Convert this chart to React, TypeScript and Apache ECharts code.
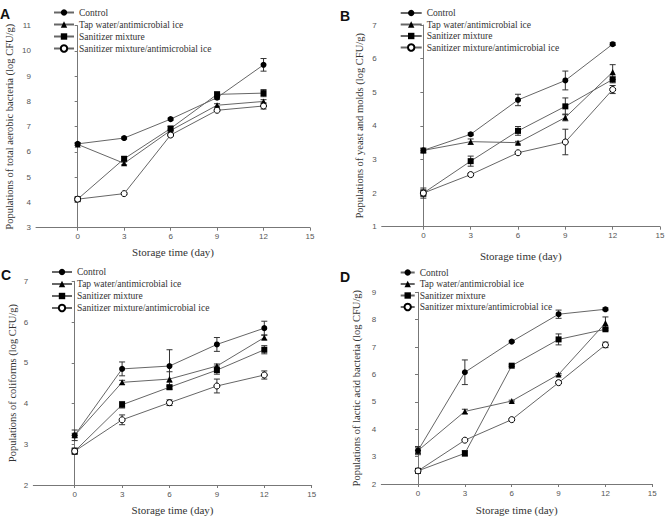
import React, { useEffect, useRef } from "react";
import * as echarts from "echarts";

// Storage days on the x axis
const days = [0, 3, 6, 9, 12];
const xTickValues = [0, 3, 6, 9, 12, 15];

const seriesNames = [
  "Control",
  "Tap water/antimicrobial ice",
  "Sanitizer mixture",
  "Sanitizer mixture/antimicrobial ice",
];

// A: total aerobic bacteria (log CFU/g), means and error half-widths
const aerobicControl = [6.32, 6.55, 7.3, 8.15, 9.45];
const aerobicControlErr = [0.05, 0.04, 0.04, 0.06, 0.25];
const aerobicTap = [6.3, 5.55, 6.85, 7.85, 8.0];
const aerobicTapErr = [0.04, 0.06, 0.05, 0.06, 0.07];
const aerobicSanitizer = [4.13, 5.73, 6.93, 8.28, 8.33];
const aerobicSanitizerErr = [0.04, 0.08, 0.08, 0.1, 0.14];
const aerobicSanIce = [4.13, 4.35, 6.67, 7.65, 7.82];
const aerobicSanIceErr = [0.05, 0.04, 0.05, 0.05, 0.12];

// B: yeast and molds
const yeastControl = [3.27, 3.75, 4.77, 5.35, 6.43];
const yeastControlErr = [0.07, 0.04, 0.17, 0.28, 0.04];
const yeastTap = [3.27, 3.53, 3.5, 4.25, 5.6];
const yeastTapErr = [0.05, 0.08, 0.04, 0.1, 0.22];
const yeastSanitizer = [2.0, 2.95, 3.85, 4.58, 5.38];
const yeastSanitizerErr = [0.1, 0.15, 0.13, 0.25, 0.1];
const yeastSanIce = [2.0, 2.55, 3.2, 3.52, 5.08];
const yeastSanIceErr = [0.15, 0.04, 0.03, 0.38, 0.12];

// C: coliforms
const coliControl = [3.22, 4.85, 4.92, 5.45, 5.85];
const coliControlErr = [0.13, 0.17, 0.4, 0.17, 0.17];
const coliTap = [3.22, 4.52, 4.6, 4.92, 5.62];
const coliTapErr = [0.05, 0.05, 0.18, 0.05, 0.06];
const coliSanitizer = [2.83, 3.97, 4.4, 4.82, 5.32];
const coliSanitizerErr = [0.05, 0.08, 0.05, 0.1, 0.1];
const coliSanIce = [2.83, 3.6, 4.02, 4.43, 4.7];
const coliSanIceErr = [0.08, 0.12, 0.07, 0.17, 0.1];

// D: lactic acid bacteria
const labControl = [3.22, 6.08, 7.2, 8.2, 8.38];
const labControlErr = [0.15, 0.45, 0.03, 0.15, 0.05];
const labTap = [3.22, 4.65, 5.03, 6.0, 7.88];
const labTapErr = [0.1, 0.08, 0.03, 0.03, 0.22];
const labSanitizer = [2.48, 3.12, 6.32, 7.28, 7.65];
const labSanitizerErr = [0.05, 0.1, 0.03, 0.2, 0.05];
const labSanIce = [2.48, 3.6, 4.35, 5.7, 7.08];
const labSanIceErr = [0.05, 0.03, 0.03, 0.03, 0.1];

const SERIF = "Liberation Serif";
const SANS = "Liberation Sans";

type Panel = {
  letter: string;
  yTitle: string;
  yMin: number;
  yMax: number;
  xMin: number;
  grid: { left: number; top: number; width: number; height: number };
  yNameGap: number;
  xNameGap: number;
  legend: { left: number; top: number; itemWidth: number; itemGap: number };
  letterPos: [number, number];
  values: number[][];
  errors: number[][];
};

const panels: Panel[] = [
  {
    letter: "A",
    yTitle: "Populations of total aerobic bacteria (log CFU/g)",
    yMin: 3,
    yMax: 11,
    xMin: -2.69,
    grid: { left: 36, top: 25.7, width: 274, height: 202 },
    yNameGap: 21,
    xNameGap: 19,
    legend: { left: 48, top: 2.5, itemWidth: 20, itemGap: 2 },
    letterPos: [0, 7],
    values: [aerobicControl, aerobicTap, aerobicSanitizer, aerobicSanIce],
    errors: [aerobicControlErr, aerobicTapErr, aerobicSanitizerErr, aerobicSanIceErr],
  },
  {
    letter: "B",
    yTitle: "Populations of yeast and molds (log CFU/g)",
    yMin: 1,
    yMax: 7,
    xMin: -2.64,
    grid: { left: 381.7, top: 25, width: 278.3, height: 201.7 },
    yNameGap: 17,
    xNameGap: 24,
    legend: { left: 394.7, top: 3, itemWidth: 21, itemGap: 1.5 },
    letterPos: [340, 9],
    values: [yeastControl, yeastTap, yeastSanitizer, yeastSanIce],
    errors: [yeastControlErr, yeastTapErr, yeastSanitizerErr, yeastSanIceErr],
  },
  {
    letter: "C",
    yTitle: "Populations of coliforms (log CFU/g)",
    yMin: 2,
    yMax: 7,
    xMin: -2.62,
    grid: { left: 33.3, top: 281.3, width: 278.4, height: 204.4 },
    yNameGap: 15,
    xNameGap: 19,
    legend: { left: 46, top: 262, itemWidth: 20, itemGap: 2 },
    letterPos: [1, 268],
    values: [coliControl, coliTap, coliSanitizer, coliSanIce],
    errors: [coliControlErr, coliTapErr, coliSanitizerErr, coliSanIceErr],
  },
  {
    letter: "D",
    yTitle: "Populations of lactic acid bacteria (log CFU/g)",
    yMin: 2,
    yMax: 9,
    xMin: -2.35,
    grid: { left: 381.3, top: 292.3, width: 271, height: 195.7 },
    yNameGap: 19,
    xNameGap: 20,
    legend: { left: 394.7, top: 262.5, itemWidth: 14, itemGap: 1.5 },
    letterPos: [340, 270],
    values: [labControl, labTap, labSanitizer, labSanIce],
    errors: [labControlErr, labTapErr, labSanitizerErr, labSanIceErr],
  },
];

const markerStyles = [
  { symbol: "circle", symbolSize: 6, itemStyle: { color: "#000", borderColor: "#000", borderWidth: 0 } },
  { symbol: "triangle", symbolSize: 6, itemStyle: { color: "#000", borderColor: "#000", borderWidth: 0 } },
  { symbol: "rect", symbolSize: 6, itemStyle: { color: "#000", borderColor: "#000", borderWidth: 0 } },
  { symbol: "circle", symbolSize: 6, itemStyle: { color: "#fff", borderColor: "#000", borderWidth: 1 } },
];

function errorBarRenderer(params: any, api: any) {
  const x = api.value(0);
  const y = api.value(1);
  const e = api.value(2);
  const top = api.coord([x, y + e]);
  const bot = api.coord([x, y - e]);
  const hw = 3;
  const style = { stroke: "#333", lineWidth: 1 };
  return {
    type: "group",
    children: [
      { type: "line", shape: { x1: top[0], y1: top[1], x2: bot[0], y2: bot[1] }, style },
      { type: "line", shape: { x1: top[0] - hw, y1: top[1], x2: top[0] + hw, y2: top[1] }, style },
      { type: "line", shape: { x1: bot[0] - hw, y1: bot[1], x2: bot[0] + hw, y2: bot[1] }, style },
    ],
  };
}

function buildOption() {
  const grid: any[] = [];
  const xAxis: any[] = [];
  const yAxis: any[] = [];
  const legend: any[] = [];
  const series: any[] = [];
  const graphic: any[] = [];

  panels.forEach((p, pi) => {
    grid.push({ ...p.grid, containLabel: false });
    xAxis.push({
      type: "value",
      gridIndex: pi,
      min: p.xMin,
      max: 15,
      name: "Storage time (day)",
      nameLocation: "middle",
      nameGap: p.xNameGap,
      nameTextStyle: { fontFamily: SERIF, fontSize: 11, color: "#333" },
      axisLine: { show: true, lineStyle: { color: "#777", width: 1 } },
      axisTick: { show: true, inside: false, length: 3, customValues: xTickValues, lineStyle: { color: "#777" } },
      axisLabel: { customValues: xTickValues, fontFamily: SANS, fontSize: 8, color: "#555", margin: 5 },
      splitLine: { show: false },
    });
    yAxis.push({
      type: "value",
      gridIndex: pi,
      min: p.yMin,
      max: p.yMax,
      interval: 1,
      name: p.yTitle,
      nameLocation: "middle",
      nameRotate: 90,
      nameGap: p.yNameGap,
      nameTextStyle: { fontFamily: SERIF, fontSize: 10.5, color: "#333" },
      axisLine: { show: true, lineStyle: { color: "#777", width: 1 } },
      axisTick: { show: true, inside: false, length: 3, lineStyle: { color: "#777" } },
      axisLabel: { fontFamily: SANS, fontSize: 8, color: "#555", margin: 5 },
      splitLine: { show: false },
    });
    legend.push({
      orient: "vertical",
      left: p.legend.left,
      top: p.legend.top,
      itemWidth: p.legend.itemWidth,
      itemHeight: 8,
      itemGap: p.legend.itemGap,
      selectedMode: false,
      data: seriesNames,
      textStyle: { fontFamily: SERIF, fontSize: 9.5, color: "#333" },
    });

    p.values.forEach((vals, si) => {
      const errs = p.errors[si];
      series.push({
        type: "custom",
        xAxisIndex: pi,
        yAxisIndex: pi,
        z: 2,
        silent: true,
        renderItem: errorBarRenderer,
        encode: { x: 0, y: 1 },
        data: days.map((d, i) => [d, vals[i], errs[i]]),
      });
    });
    p.values.forEach((vals, si) => {
      series.push({
        name: seriesNames[si],
        type: "line",
        xAxisIndex: pi,
        yAxisIndex: pi,
        z: 3,
        ...markerStyles[si],
        lineStyle: { color: "#666", width: 1 },
        data: days.map((d, i) => [d, vals[i]]),
      });
    });

    graphic.push({
      type: "text",
      left: p.letterPos[0],
      top: p.letterPos[1],
      style: { text: p.letter, fontFamily: SANS, fontWeight: "bold", fontSize: 14, fill: "#111" },
    });
  });

  return { animation: false, backgroundColor: "#fff", grid, xAxis, yAxis, legend, series, graphic };
}

export default function App() {
  const ref = useRef<HTMLDivElement>(null);
  useEffect(() => {
    if (!ref.current) return;
    const chart = echarts.init(ref.current, undefined, { renderer: "svg" });
    chart.setOption(buildOption() as any);
    return () => chart.dispose();
  }, []);
  return (
    <div
      ref={ref}
      style={{ position: "fixed", left: 0, top: 0, width: 668, height: 516, background: "#fff" }}
    />
  );
}
